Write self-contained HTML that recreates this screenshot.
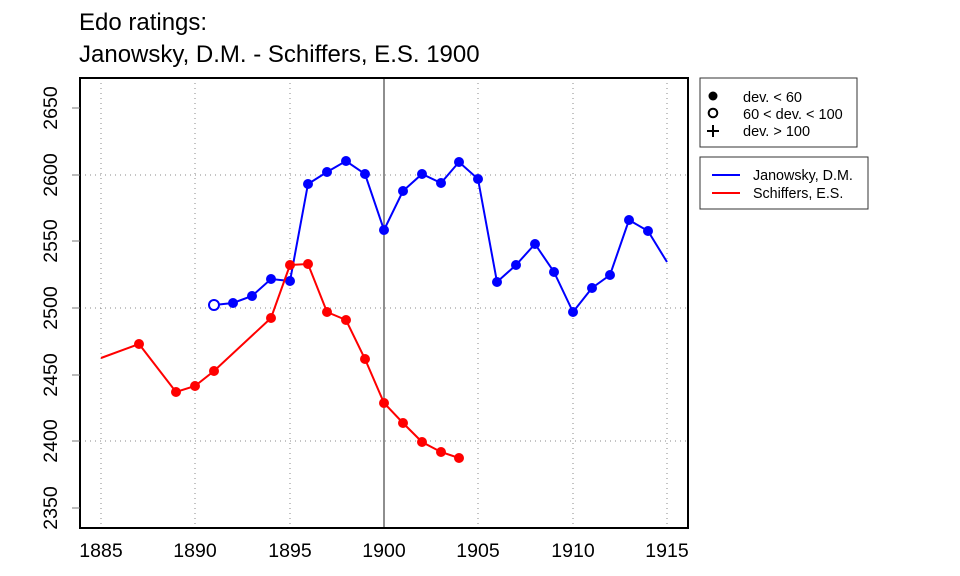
<!DOCTYPE html>
<html><head><meta charset="utf-8"><style>body{margin:0;background:#fff}svg{display:block}text{font-family:"Liberation Sans",sans-serif}</style></head>
<body>
<svg width="960" height="576" xmlns="http://www.w3.org/2000/svg">
<text x="79" y="30" font-size="24">Edo ratings:</text>
<text x="79" y="62" font-size="24">Janowsky, D.M. - Schiffers, E.S. 1900</text>
<g stroke="#888" stroke-dasharray="1,4" stroke-width="1">
<line x1="101" y1="78" x2="101" y2="528"/><line x1="195" y1="78" x2="195" y2="528"/><line x1="290" y1="78" x2="290" y2="528"/><line x1="478" y1="78" x2="478" y2="528"/><line x1="573" y1="78" x2="573" y2="528"/><line x1="667" y1="78" x2="667" y2="528"/>
<line x1="80" y1="175" x2="688" y2="175"/><line x1="80" y1="308" x2="688" y2="308"/><line x1="80" y1="441" x2="688" y2="441"/>
</g>
<line x1="384" y1="78" x2="384" y2="528" stroke="#444" stroke-width="1.2"/>
<rect x="80" y="78" width="608" height="450" fill="none" stroke="#000" stroke-width="2"/>
<g stroke="#777">
<line x1="72" y1="108" x2="80" y2="108"/><line x1="72" y1="175" x2="80" y2="175"/><line x1="72" y1="241" x2="80" y2="241"/><line x1="72" y1="308" x2="80" y2="308"/><line x1="72" y1="375" x2="80" y2="375"/><line x1="72" y1="441" x2="80" y2="441"/><line x1="72" y1="508" x2="80" y2="508"/></g>
<g font-size="19.5" text-anchor="middle"><text x="101" y="557">1885</text><text x="195" y="557">1890</text><text x="290" y="557">1895</text><text x="384" y="557">1900</text><text x="478" y="557">1905</text><text x="573" y="557">1910</text><text x="667" y="557">1915</text>
<text transform="translate(57,108) rotate(-90)">2650</text><text transform="translate(57,175) rotate(-90)">2600</text><text transform="translate(57,241) rotate(-90)">2550</text><text transform="translate(57,308) rotate(-90)">2500</text><text transform="translate(57,375) rotate(-90)">2450</text><text transform="translate(57,441) rotate(-90)">2400</text><text transform="translate(57,508) rotate(-90)">2350</text></g>
<polyline fill="none" stroke="#00f" stroke-width="2" points="214,305 233,303 252,296 271,279 290,281 308,184 327,172 346,161 365,174 384,230 403,191 422,174 441,183 459,162 478,179 497,282 516,265 535,244 554,272 573,312 592,288 610,275 629,220 648,231 667,262"/>
<g fill="#00f"><circle cx="214" cy="305" r="5" fill="#fff" stroke="#00f" stroke-width="2"/><circle cx="233" cy="303" r="5"/><circle cx="252" cy="296" r="5"/><circle cx="271" cy="279" r="5"/><circle cx="290" cy="281" r="5"/><circle cx="308" cy="184" r="5"/><circle cx="327" cy="172" r="5"/><circle cx="346" cy="161" r="5"/><circle cx="365" cy="174" r="5"/><circle cx="384" cy="230" r="5"/><circle cx="403" cy="191" r="5"/><circle cx="422" cy="174" r="5"/><circle cx="441" cy="183" r="5"/><circle cx="459" cy="162" r="5"/><circle cx="478" cy="179" r="5"/><circle cx="497" cy="282" r="5"/><circle cx="516" cy="265" r="5"/><circle cx="535" cy="244" r="5"/><circle cx="554" cy="272" r="5"/><circle cx="573" cy="312" r="5"/><circle cx="592" cy="288" r="5"/><circle cx="610" cy="275" r="5"/><circle cx="629" cy="220" r="5"/><circle cx="648" cy="231" r="5"/></g>
<polyline fill="none" stroke="#f00" stroke-width="2" points="101,358 139,344 176,392 195,386 214,371 271,318 290,265 308,264 327,312 346,320 365,359 384,403 403,423 422,442 441,452 459,458"/>
<g fill="#f00"><circle cx="139" cy="344" r="5"/><circle cx="176" cy="392" r="5"/><circle cx="195" cy="386" r="5"/><circle cx="214" cy="371" r="5"/><circle cx="271" cy="318" r="5"/><circle cx="290" cy="265" r="5"/><circle cx="308" cy="264" r="5"/><circle cx="327" cy="312" r="5"/><circle cx="346" cy="320" r="5"/><circle cx="365" cy="359" r="5"/><circle cx="384" cy="403" r="5"/><circle cx="403" cy="423" r="5"/><circle cx="422" cy="442" r="5"/><circle cx="441" cy="452" r="5"/><circle cx="459" cy="458" r="5"/></g>
<rect x="700" y="78" width="157" height="69" fill="#fff" stroke="#333"/>
<circle cx="713" cy="96" r="4.5"/><circle cx="713" cy="113" r="4.3" fill="none" stroke="#000" stroke-width="2"/>
<path d="M707 131h12M713 125v12" stroke="#000" stroke-width="2"/>
<g font-size="14.5"><text x="743" y="102">dev. &lt; 60</text><text x="743" y="119">60 &lt; dev. &lt; 100</text><text x="743" y="136">dev. &gt; 100</text></g>
<rect x="700" y="157" width="168" height="52" fill="#fff" stroke="#333"/>
<line x1="712" y1="175" x2="740" y2="175" stroke="#00f" stroke-width="2"/><line x1="712" y1="193" x2="740" y2="193" stroke="#f00" stroke-width="2"/>
<g font-size="14.3"><text x="753" y="180">Janowsky, D.M.</text><text x="753" y="198">Schiffers, E.S.</text></g>
</svg>
</body></html>
